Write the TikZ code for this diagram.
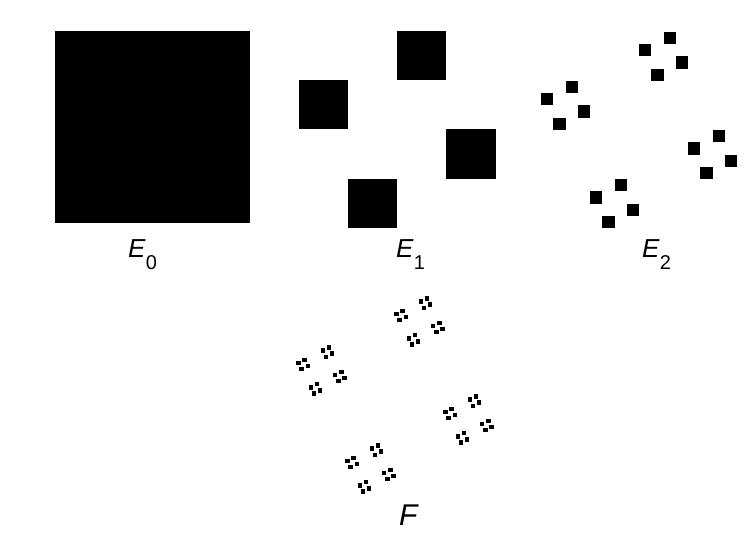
\documentclass[tikz,border=0pt]{standalone}
\usepackage{fontspec}
\setmainfont{Liberation Sans}
\usepackage{tikz}

\tikzset{
  piece/.style={fill=black},
  lbl/.style={anchor=base west, inner sep=0pt, font=\fontsize{26}{30}\selectfont},
}
% pinwheel positions (column/row) of the four quarter-size squares
\def\wheel{0/1,2/0,3/2,1/3}
\newcommand{\lowidx}[1]{\raisebox{-12pt}{\fontsize{20}{24}\selectfont #1}}

\begin{document}
\begin{tikzpicture}[x=1pt, y=-1pt]
        \useasboundingbox (0,0) rectangle (748,543);

        % E_0: the whole square
        \fill[piece] (55,31) rectangle +(195,192);

        % E_1: four squares of a quarter side
        \begin{scope}[shift={(298.5,31)}]
          \foreach \ia/\ja in \wheel
            \fill[piece] (\ia*49.25,\ja*49.25) rectangle +(49.25,49.25);
        \end{scope}

        % E_2: sixteen squares
        \begin{scope}[shift={(541,32)}]
          \foreach \ia/\ja in \wheel
            \foreach \ib/\jb in \wheel
              \fill[piece] (\ia*49+\ib*12.25,\ja*49+\jb*12.25) rectangle +(12.25,12.25);
        \end{scope}

        % F: the limit set, drawn at the third step
        \begin{scope}[shift={(297,297)}]
          \foreach \ia/\ja in \wheel
            \foreach \ib/\jb in \wheel
              \foreach \ic/\jc in \wheel
                \fill[piece] (\ia*49+\ib*12.25+\ic*3.06+1.53,\ja*49+\jb*12.25+\jc*3.06+1.53)
                  +(-2.2,-2.2) rectangle +(2.2,2.2);
        \end{scope}

        % Labels
        \node[lbl] (e0) at (128,257) {\textit{E}\lowidx{0}};
        \node[lbl] (e1) at (396,257) {\textit{E}\lowidx{1}};
        \node[lbl] (e2) at (642,257) {\textit{E}\lowidx{2}};
        \node[lbl, font=\fontsize{30}{34}\selectfont] (f) at (399,525) {\textit{F}};
      \end{tikzpicture}
\end{document}
